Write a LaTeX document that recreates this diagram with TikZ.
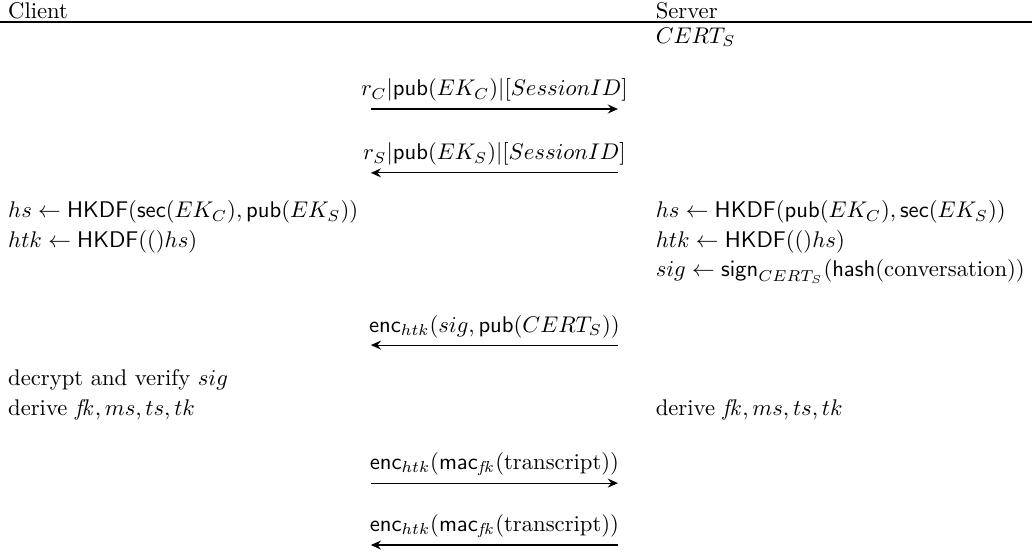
\documentclass[tikz,border=0pt]{standalone}
\usepackage{amsmath,amssymb}
\usetikzlibrary{arrows.meta, positioning}
\tikzstyle{msg} = [line width=0.5pt, ->, >={Stealth[length=4.5pt, width=4pt, inset=1.6pt]}]
\tikzstyle{party} = [anchor=west, inner sep=0pt]
\tikzstyle{action} = [anchor=west, inner sep=0pt]
\tikzstyle{msglabel} = [above=1pt, inner sep=2pt]

\begin{document}
\begin{tikzpicture}[node distance=0.46cm]
    \useasboundingbox (0,0) rectangle (16,-8.56);

    % Header row
    \node[party] (client) at (0.12,-0.17) {Client};
    \node[party] (server) at (10.16,-0.17) {Server};
    \coordinate (hl) at (0,-0.34);
    \coordinate (hr) at (16,-0.34);
    \draw[line width=0.6pt] (hl) -- (hr);
    \node[action] (cert) at (10.16,-0.58) {$CERT_S$};

    % Hello messages
    \coordinate (m1l) at (5.75,-1.69);
    \coordinate (m1r) at (9.58,-1.69);
    \coordinate (m2l) at (5.75,-2.68);
    \coordinate (m2r) at (9.58,-2.68);
    \draw[msg] (m1l) -- node[msglabel] (l1) {$r_C|\mathsf{pub}(EK_C)|[SessionID]$} (m1r);
    \draw[msg] (m2r) -- node[msglabel] (l2) {$r_S|\mathsf{pub}(EK_S)|[SessionID]$} (m2l);

    % Key derivation
    \node[action] (chs) at (0.12,-3.29) {$hs \gets \mathsf{HKDF}(\mathsf{sec}(EK_C),\mathsf{pub}(EK_S))$};
    \node[action, below=of chs.west, anchor=west] (chtk) {$htk \gets \mathsf{HKDF}(()hs)$};
    \node[action] (shs) at (10.16,-3.29) {$hs \gets \mathsf{HKDF}(\mathsf{pub}(EK_C),\mathsf{sec}(EK_S))$};
    \node[action, below=of shs.west, anchor=west] (shtk) {$htk \gets \mathsf{HKDF}(()hs)$};
    \node[action, below=of shtk.west, anchor=west] (ssig) {$sig \gets \mathsf{sign}_{CERT_S}(\mathsf{hash}(\text{conversation}))$};

    % Server finished
    \coordinate (m3l) at (5.75,-5.35);
    \coordinate (m3r) at (9.58,-5.35);
    \draw[msg] (m3r) -- node[msglabel] (l3) {$\mathsf{enc}_{htk}(sig,\mathsf{pub}(CERT_S))$} (m3l);

    % Verification
    \node[action] (cver) at (0.12,-5.89) {decrypt and verify $sig$};
    \node[action, below=of cver.west, anchor=west] (cder) {derive $\mathit{fk}, ms, ts, tk$};
    \node[action] (sder) at (10.16,-6.35) {derive $\mathit{fk}, ms, ts, tk$};

    % Finished messages
    \coordinate (m4l) at (5.75,-7.49);
    \coordinate (m4r) at (9.58,-7.49);
    \coordinate (m5l) at (5.75,-8.45);
    \coordinate (m5r) at (9.58,-8.45);
    \draw[msg] (m4l) -- node[msglabel] (l4) {$\mathsf{enc}_{htk}(\mathsf{mac}_{\mathit{fk}}(\text{transcript}))$} (m4r);
    \draw[msg] (m5r) -- node[msglabel] (l5) {$\mathsf{enc}_{htk}(\mathsf{mac}_{\mathit{fk}}(\text{transcript}))$} (m5l);
\end{tikzpicture}
\end{document}
